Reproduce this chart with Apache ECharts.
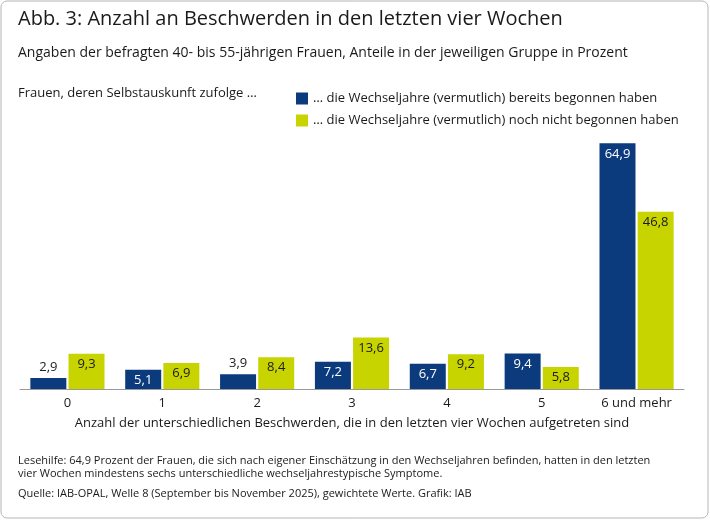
<!DOCTYPE html>
<html><head><meta charset="utf-8">
<script src="https://cdn.jsdelivr.net/npm/echarts@6/dist/echarts.min.js"></script>
<style>html,body{margin:0;padding:0;background:#fff}#c{width:710px;height:520px}</style>
</head><body><div id="c"></div>
<script>
const categories = ['0','1','2','3','4','5','6 und mehr'];
const begonnen = [2.9,5.1,3.9,7.2,6.7,9.4,64.9];
const nichtBegonnen = [9.3,6.9,8.4,13.6,9.2,5.8,46.8];
const seriesNames = ['… die Wechseljahre (vermutlich) bereits begonnen haben','… die Wechseljahre (vermutlich) noch nicht begonnen haben'];
const F = 'Source Sans Pro, "Open Sans", "Noto Sans", sans-serif';
const fmt = v => String(v).replace('.', ',');
function darkData(arr){return arr.map(v=>({value:v,label:v<4.5?{position:'top',color:'#222'}:{position:'insideTop',color:'#fff'}}));}
const chart = echarts.init(document.getElementById('c'));
chart.setOption({
  animation:false,
  textStyle:{fontFamily:F},
  graphic:[
    {type:'rect',shape:{x:1,y:1,width:707,height:517,r:6},style:{fill:'none',stroke:'#b5b5b5',lineWidth:1}},
    {type:'text',left:18,top:9,style:{text:'Abb. 3: Anzahl an Beschwerden in den letzten vier Wochen',font:'20px '+F,fill:'#1a1a1a'}},
    {type:'text',left:18,top:46,style:{text:'Angaben der befragten 40- bis 55-jährigen Frauen, Anteile in der jeweiligen Gruppe in Prozent',font:'14px '+F,fill:'#1a1a1a'}},
    {type:'text',left:18,top:87,style:{text:'Frauen, deren Selbstauskunft zufolge …',font:'13px '+F,fill:'#1a1a1a'}},
    {type:'text',left:18,top:454,style:{text:'Lesehilfe: 64,9 Prozent der Frauen, die sich nach eigener Einschätzung in den Wechseljahren befinden, hatten in den letzten\nvier Wochen mindestens sechs unterschiedliche wechseljahrestypische Symptome.',font:'11px '+F,fill:'#1a1a1a',lineHeight:13}},
    {type:'text',left:18,top:488,style:{text:'Quelle: IAB-OPAL, Welle 8 (September bis November 2025), gewichtete Werte. Grafik: IAB',font:'11px '+F,fill:'#1a1a1a'}}
  ],
  legend:{orient:'vertical',left:291,top:87,itemWidth:12,itemHeight:12,itemGap:9,icon:'rect',
    textStyle:{fontSize:13,color:'#1a1a1a',fontFamily:F},data:seriesNames},
  grid:{left:20,right:26,top:124,bottom:131,containLabel:false},
  xAxis:{type:'category',data:categories,axisLine:{lineStyle:{color:'#999'}},axisTick:{show:false},
    axisLabel:{fontSize:13,color:'#1a1a1a',margin:8},
    name:'Anzahl der unterschiedlichen Beschwerden, die in den letzten vier Wochen aufgetreten sind',
    nameLocation:'middle',nameGap:28,nameTextStyle:{fontSize:13,color:'#1a1a1a'}},
  yAxis:{type:'value',min:0,max:70,show:false,splitLine:{show:false}},
  series:[
    {name:seriesNames[0],type:'bar',data:darkData(begonnen),barWidth:36,barGap:'6%',itemStyle:{color:'#0b3b7d'},
      label:{show:true,fontSize:13,formatter:p=>fmt(p.value),distance:4}},
    {name:seriesNames[1],type:'bar',data:nichtBegonnen,barWidth:36,itemStyle:{color:'#c8d400'},
      label:{show:true,position:'insideTop',color:'#1a1a1a',fontSize:13,formatter:p=>fmt(p.value),distance:4}}
  ]
});
</script></body></html>
